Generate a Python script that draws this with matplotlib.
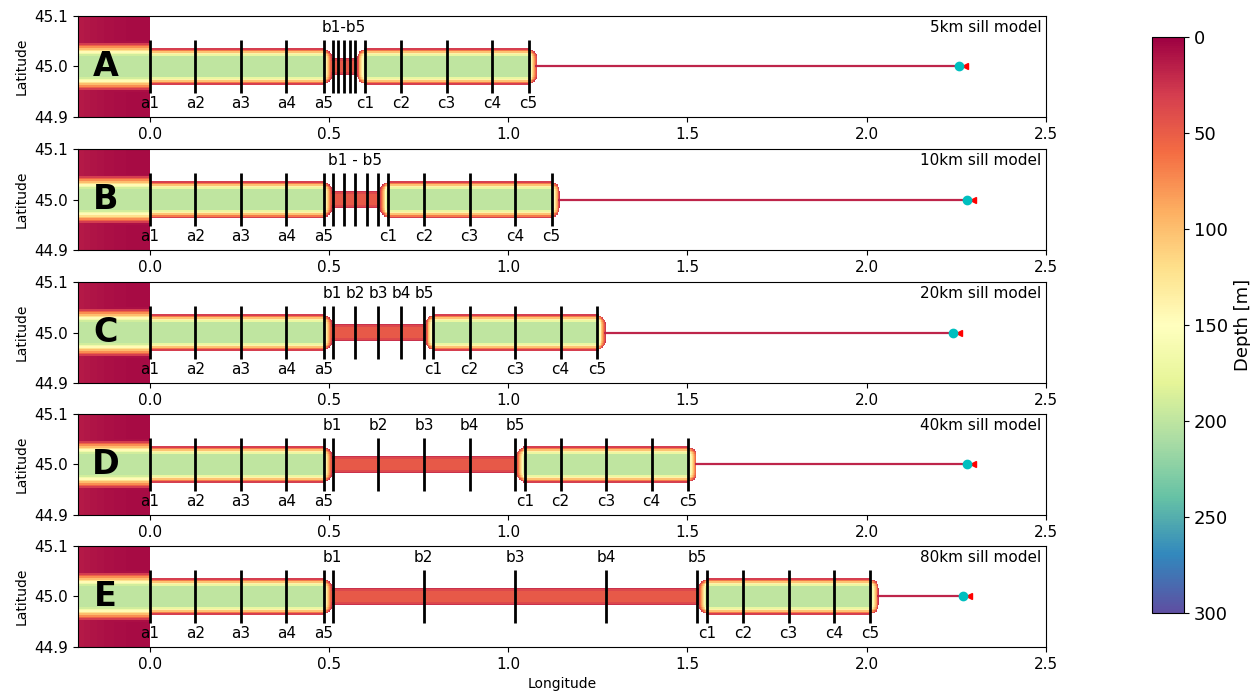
import numpy as np
import matplotlib
matplotlib.use('Agg')
import matplotlib.pyplot as plt
from matplotlib import cm, colors

# sill experiments, one panel each
letters = ['A', 'B', 'C', 'D', 'E']
titles = ['5km sill model', '10km sill model', '20km sill model',
          '40km sill model', '80km sill model']

# transect longitudes (outer channel a, sill b, inner basin c)
a_pos = [0.0, 0.127, 0.254, 0.381, 0.486]
b_pos = [
    [0.510, 0.526, 0.542, 0.558, 0.574],
    [0.510, 0.542, 0.574, 0.606, 0.638],
    [0.510, 0.574, 0.638, 0.701, 0.765],
    [0.510, 0.638, 0.765, 0.892, 1.019],
    [0.510, 0.764, 1.019, 1.273, 1.527],
]
c_pos = [
    [0.600, 0.701, 0.828, 0.955, 1.057],
    [0.664, 0.765, 0.892, 1.019, 1.121],
    [0.791, 0.892, 1.019, 1.146, 1.248],
    [1.046, 1.146, 1.273, 1.400, 1.502],
    [1.554, 1.655, 1.782, 1.909, 2.010],
]
b_group_label = ['b1-b5', 'b1 - b5', None, None, None]

basin_end = [1.081, 1.144, 1.272, 1.526, 2.034]   # head of the fjord basin
mooring_x = [2.257, 2.279, 2.240, 2.279, 2.268]   # river mooring
source_x = [2.275, 2.297, 2.256, 2.297, 2.284]    # freshwater source

chan_depth = 200
sill_depth = 48
river_depth = 18

# model grid
dx, dy = 0.0025, 0.0032
xc = np.arange(-0.2 + dx / 2, 2.5, dx)
yc = 45.0 + dy * np.arange(-32, 33)
X, Y = np.meshgrid(xc, yc)
ay = np.abs(Y - 45.0)
lon_scale = 0.71


def inside_dist(x0, x1, hw, r):
    # distance inside a rounded rectangle (positive inside)
    xm = 0.5 * (x0 + x1)
    hl = 0.5 * (x1 - x0) * lon_scale
    qx = np.abs(X - xm) * lon_scale - (hl - r)
    qy = ay - (hw - r)
    sd = (np.hypot(np.maximum(qx, 0), np.maximum(qy, 0))
          + np.minimum(np.maximum(qx, qy), 0) - r)
    return -sd


def bathymetry(b5, c_end):
    z = np.full(X.shape, np.nan)
    for x0, x1 in [(-0.1, 0.508), (b5 + 0.004, c_end)]:
        d = inside_dist(x0, x1, 0.036, 0.02)
        v = 22 + (chan_depth - 22) * np.clip(d / 0.016, 0, 1)
        z = np.where(d > 0, np.fmax(z, v), z)
    d = inside_dist(0.49, b5 + 0.012, 0.019, 0.004)
    v = 12 + (sill_depth - 12) * np.clip(d / 0.009, 0, 1)
    z = np.where(d > 0, np.fmax(z, v), z)
    # open shelf west of the mouth
    shelf = 5 + 8 * (X / 0.2) ** 2
    band = chan_depth * np.clip((0.049 - ay) / 0.028, 0, 1)
    z = np.where(X < 0, np.maximum(shelf, band), z)
    return np.ma.masked_invalid(z)


cmap = plt.get_cmap('Spectral')
norm = colors.Normalize(vmin=0, vmax=300)

fig = plt.figure(figsize=(12.5, 6.93), dpi=100)
bottoms = [0.8312, 0.6392, 0.4473, 0.2569, 0.0664]

for i in range(5):
    ax = fig.add_axes([0.0624, bottoms[i], 0.7744, 0.1457])
    z = bathymetry(b_pos[i][-1], basin_end[i])
    ax.pcolormesh(xc, yc, z, cmap=cmap, norm=norm, shading='nearest')
    # river feeding the basin head
    ax.hlines(45.0, basin_end[i] - 0.005, mooring_x[i],
              colors=[cmap(norm(river_depth))], lw=1.6)

    lines = a_pos + b_pos[i] + c_pos[i]
    ax.vlines(lines, 44.948, 45.052, colors='k', lw=2)

    for k, x in enumerate(a_pos):
        ax.text(x, 44.926, 'a%d' % (k + 1), ha='center', va='center', fontsize=11)
    for k, x in enumerate(c_pos[i]):
        ax.text(x, 44.926, 'c%d' % (k + 1), ha='center', va='center', fontsize=11)
    if b_group_label[i]:
        xm = 0.5 * (b_pos[i][0] + b_pos[i][-1])
        ax.text(xm, 45.078, b_group_label[i], ha='center', va='center', fontsize=11)
    else:
        for k, x in enumerate(b_pos[i]):
            ax.text(x, 45.078, 'b%d' % (k + 1), ha='center', va='center', fontsize=11)

    ax.plot(source_x[i], 45.0, '<', color='r', ms=5, zorder=4)
    ax.plot(mooring_x[i], 45.0, 'o', color='c', ms=6, zorder=5)

    ax.text(-0.123, 45.0, letters[i], ha='center', va='center',
            fontsize=24, fontweight='bold')
    ax.text(0.995, 0.89, titles[i], transform=ax.transAxes,
            ha='right', va='center', fontsize=11)

    ax.set_xlim(-0.2, 2.5)
    ax.set_ylim(44.9, 45.1)
    ax.set_xticks([0.0, 0.5, 1.0, 1.5, 2.0, 2.5])
    ax.set_xticklabels(['0.0', '0.5', '1.0', '1.5', '2.0', '2.5'])
    ax.set_yticks([44.9, 45.0, 45.1])
    ax.set_yticklabels(['44.9', '45.0', '45.1'])
    ax.tick_params(labelsize=11)
    ax.set_ylabel('Latitude', fontsize=10)
    if i == 4:
        ax.set_xlabel('Longitude', fontsize=10)

cax = fig.add_axes([0.9216, 0.1154, 0.0256, 0.8312])
cb = fig.colorbar(cm.ScalarMappable(norm=norm, cmap=cmap), cax=cax)
cb.set_ticks([0, 50, 100, 150, 200, 250, 300])
cax.invert_yaxis()
cax.tick_params(labelsize=13)
cb.set_label('Depth [m]', fontsize=13)

fig.savefig('out.png', dpi=100)
